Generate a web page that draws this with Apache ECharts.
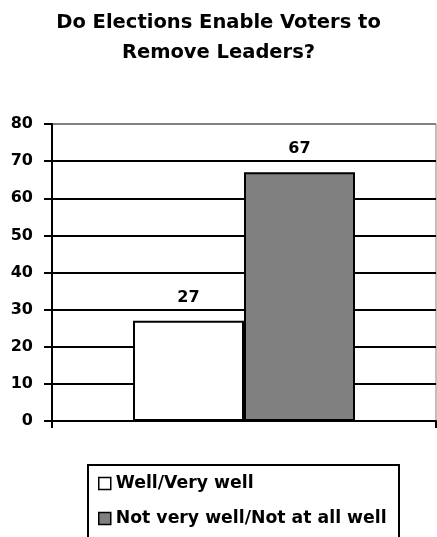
<!DOCTYPE html>
<html>
<head>
<meta charset="utf-8">
<script src="https://cdn.jsdelivr.net/npm/echarts@6/dist/echarts.min.js"></script>
<style>html,body{margin:0;padding:0;background:#fff}#c{width:437px;height:537px}</style>
</head>
<body>
<div id="c"></div>
<script>
var titleText = 'Do Elections Enable Voters to\nRemove Leaders?';
var categories = [''];
var seriesNames = ['Well/Very well', 'Not very well/Not at all well'];
var wellValues = [27];
var notWellValues = [67];
var yTicks = [0, 10, 20, 30, 40, 50, 60, 70, 80];

var chart = echarts.init(document.getElementById('c'), null, {renderer: 'canvas'});
var font = '"DejaVu Sans", sans-serif';
chart.setOption({
  backgroundColor: '#fff',
  animation: false,
  title: {
    text: titleText, left: 'center', top: 3,
    textStyle: {fontFamily: font, fontSize: 19.5, fontWeight: 'bold', color: '#000', lineHeight: 30}
  },
  grid: {left: 52, right: 1, top: 124, bottom: 116, show: true, borderColor: '#808080', borderWidth: 1},
  xAxis: {
    type: 'category', data: categories,
    axisLine: {lineStyle: {color: '#000', width: 2}},
    axisTick: {show: true, length: 7, lineStyle: {color: '#000', width: 2}},
    axisLabel: {show: false}
  },
  yAxis: {
    type: 'value', min: yTicks[0], max: yTicks[yTicks.length - 1], interval: 10,
    axisLine: {show: true, lineStyle: {color: '#000', width: 2}},
    axisTick: {show: true, length: 8, lineStyle: {color: '#000', width: 2}},
    axisLabel: {fontFamily: font, fontSize: 16, fontWeight: 'bold', color: '#000', margin: 19},
    splitLine: {show: true, lineStyle: {color: ['#000', '#000', '#000', '#000', '#000', '#000', '#000', '#000', '#808080'], width: 2}}
  },
  legend: {
    orient: 'vertical', left: 93, top: 470, itemWidth: 12, itemHeight: 12, itemGap: 18,
    icon: 'rect',
    itemStyle: {borderColor: '#000', borderWidth: 1.5},
    textStyle: {fontFamily: font, fontSize: 17.3, fontWeight: 'bold', color: '#000'},
    data: seriesNames
  },
  graphic: [{
    type: 'rect', shape: {x: 88, y: 465, width: 311, height: 90},
    style: {fill: 'none', stroke: '#000', lineWidth: 2}, z: -1
  }],
  series: [{
    name: seriesNames[0], type: 'bar', data: wellValues, barWidth: 111, barGap: '0%',
    itemStyle: {color: '#fff', borderColor: '#000', borderWidth: 2},
    label: {show: true, position: 'top', distance: 15, fontFamily: font, fontSize: 16, fontWeight: 'bold', color: '#000'}
  }, {
    name: seriesNames[1], type: 'bar', data: notWellValues, barWidth: 111, barGap: '0%',
    itemStyle: {color: '#808080', borderColor: '#000', borderWidth: 2},
    label: {show: true, position: 'top', distance: 15, fontFamily: font, fontSize: 16, fontWeight: 'bold', color: '#000'}
  }]
});
</script>
</body>
</html>
